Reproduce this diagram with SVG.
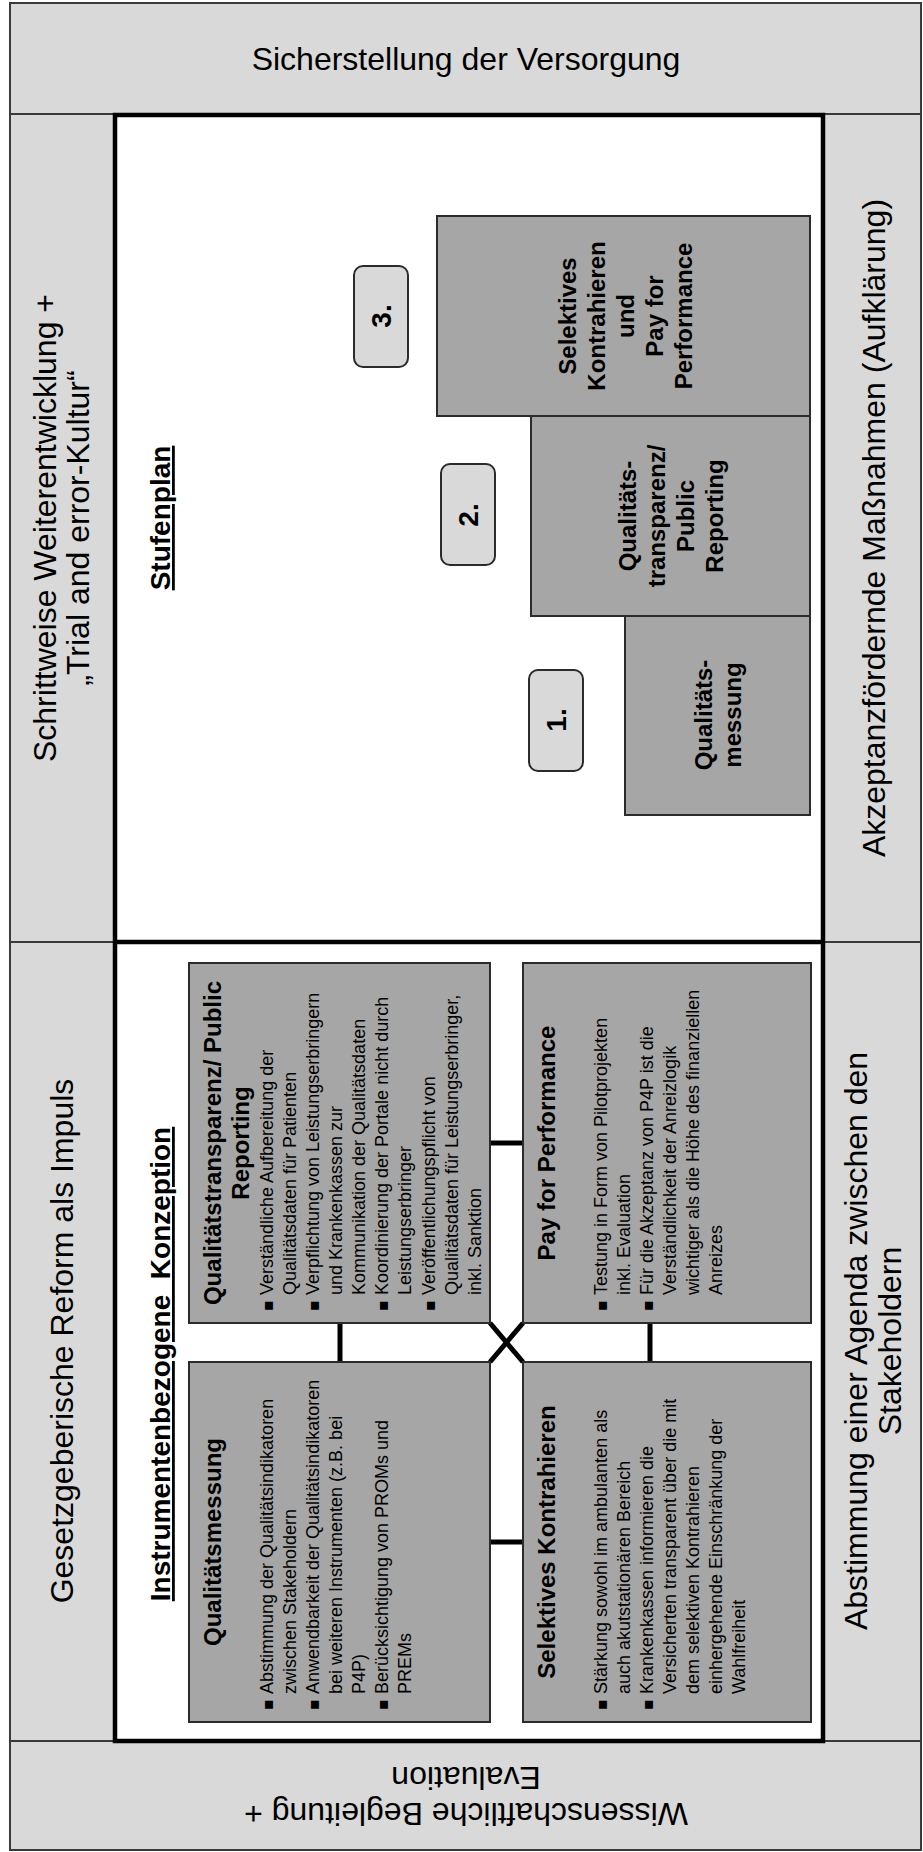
<svg xmlns="http://www.w3.org/2000/svg" width="923" height="1852" viewBox="0 0 923 1852">
  <style>
    text { font-family: 'Liberation Sans', Arial, sans-serif; fill: #000; }
    .big { font-size: 32px; text-anchor: middle; }
    .head { font-size: 28px; font-weight: bold; text-decoration: underline; text-anchor: middle; }
    .btitle { font-size: 24px; font-weight: bold; text-anchor: middle; }
    .bul { font-size: 18px; }
    .dot { font-family: 'DejaVu Sans', sans-serif; font-size: 16px; }
    .step { font-size: 24px; font-weight: bold; text-anchor: middle; }
    .num { font-size: 28px; font-weight: bold; text-anchor: middle; }
    .band { fill: #d9d9d9; stroke: #3a3a3a; stroke-width: 2; }
    .box { fill: #a6a6a6; stroke: #2b2b2b; stroke-width: 2; }
    .tag { fill: #d9d9d9; stroke: #2b2b2b; stroke-width: 2; }
    .thin { stroke: #3a3a3a; stroke-width: 2; fill: none; }
    .conn { stroke: #000; stroke-width: 5; fill: none; }
  </style>

  <!-- outer frame with the four surrounding bands -->
  <g id="frame">
    <rect class="band" x="10" y="3" width="911" height="1847"/>
    <line class="thin" x1="10" y1="114" x2="921" y2="114"/>
    <line class="thin" x1="10" y1="1741" x2="921" y2="1741"/>
    <line class="thin" x1="10" y1="942" x2="115" y2="942"/>
    <line class="thin" x1="823" y1="942" x2="921" y2="942"/>
  </g>

  <g id="band-top">
    <text class="big" x="466" y="70">Sicherstellung der Versorgung</text>
  </g>

  <g id="band-bottom">
    <g transform="rotate(180 466 1796)">
      <text class="big" x="466" y="1789">Wissenschaftliche Begleitung +</text>
      <text class="big" x="466" y="1825">Evaluation</text>
    </g>
  </g>

  <g id="side-left-top">
    <g transform="translate(0 528) rotate(-90)">
      <text class="big" x="0" y="56">Schrittweise Weiterentwicklung +</text>
      <text class="big" x="0" y="89">„Trial and error-Kultur“</text>
    </g>
  </g>

  <g id="side-left-bottom">
    <g transform="translate(0 1341) rotate(-90)">
      <text class="big" x="0" y="73">Gesetzgeberische Reform als Impuls</text>
    </g>
  </g>

  <g id="side-right-top">
    <g transform="translate(0 528) rotate(-90)">
      <text class="big" x="0" y="885">Akzeptanzfördernde Maßnahmen (Aufklärung)</text>
    </g>
  </g>

  <g id="side-right-bottom">
    <g transform="translate(0 1341) rotate(-90)">
      <text class="big" x="0" y="867">Abstimmung einer Agenda zwischen den</text>
      <text class="big" x="0" y="901">Stakeholdern</text>
    </g>
  </g>

  <!-- central white panel, split into the two halves -->
  <g id="panel">
    <rect x="115" y="115" width="708" height="1626" fill="#fff" stroke="#000" stroke-width="4.5"/>
    <line x1="115" y1="942" x2="823" y2="942" stroke="#000" stroke-width="4.5"/>
  </g>

  <!-- upper half: staircase plan -->
  <g id="stufenplan-title">
    <g transform="translate(0 518) rotate(-90)">
      <text class="head" x="0" y="170">Stufenplan</text>
    </g>
  </g>

  <g id="step-3">
    <rect class="box" x="437" y="216" width="373" height="200"/>
    <g transform="translate(0 316) rotate(-90)">
      <text class="step" x="0" y="576">Selektives</text>
      <text class="step" x="0" y="605">Kontrahieren</text>
      <text class="step" x="0" y="634">und</text>
      <text class="step" x="0" y="663">Pay for</text>
      <text class="step" x="0" y="692">Performance</text>
    </g>
  </g>

  <g id="step-2">
    <rect class="box" x="531" y="416" width="279" height="200"/>
    <g transform="translate(0 516) rotate(-90)">
      <text class="step" x="0" y="636">Qualitäts-</text>
      <text class="step" x="0" y="665">transparenz/</text>
      <text class="step" x="0" y="694">Public</text>
      <text class="step" x="0" y="723">Reporting</text>
    </g>
  </g>

  <g id="step-1">
    <rect class="box" x="625" y="616" width="185" height="199"/>
    <g transform="translate(0 715) rotate(-90)">
      <text class="step" x="0" y="712">Qualitäts-</text>
      <text class="step" x="0" y="741">messung</text>
    </g>
  </g>

  <g id="tag-3">
    <rect class="tag" x="354" y="266" width="54" height="101" rx="9"/>
    <g transform="translate(0 316) rotate(-90)">
      <text class="num" x="0" y="391">3.</text>
    </g>
  </g>

  <g id="tag-2">
    <rect class="tag" x="441" y="464" width="54" height="101" rx="9"/>
    <g transform="translate(0 515) rotate(-90)">
      <text class="num" x="0" y="478">2.</text>
    </g>
  </g>

  <g id="tag-1">
    <rect class="tag" x="529" y="670" width="54" height="101" rx="9"/>
    <g transform="translate(0 720) rotate(-90)">
      <text class="num" x="0" y="566">1.</text>
    </g>
  </g>

  <!-- lower half: instrument concept -->
  <g id="konzeption-title">
    <g transform="translate(0 1364) rotate(-90)">
      <text class="head" x="0" y="170" xml:space="preserve">Instrumentenbezogene  Konzeption</text>
    </g>
  </g>

  <g id="connectors">
    <line class="conn" x1="340" y1="1323" x2="340" y2="1362"/>
    <line class="conn" x1="650" y1="1323" x2="650" y2="1362"/>
    <line class="conn" x1="490" y1="1143" x2="523" y2="1143"/>
    <line class="conn" x1="490" y1="1542" x2="523" y2="1542"/>
    <line class="conn" x1="490" y1="1323" x2="523" y2="1362"/>
    <line class="conn" x1="523" y1="1323" x2="490" y2="1362"/>
  </g>

  <g id="node-transparenz">
    <rect class="box" x="189" y="963" width="301" height="360"/>
    <g transform="translate(189 1323) rotate(-90)">
      <text class="btitle" x="180" y="32">Qualitätstransparenz/ Public</text>
      <text class="btitle" x="180" y="60">Reporting</text>
      <text class="dot" x="12" y="84">▪</text>
      <text class="bul" x="28" y="84">Verständliche Aufbereitung der</text>
      <text class="bul" x="28" y="107">Qualitätsdaten für Patienten</text>
      <text class="dot" x="12" y="130">▪</text>
      <text class="bul" x="28" y="130">Verpflichtung von Leistungserbringern</text>
      <text class="bul" x="28" y="153">und Krankenkassen zur</text>
      <text class="bul" x="28" y="176">Kommunikation der Qualitätsdaten</text>
      <text class="dot" x="12" y="199">▪</text>
      <text class="bul" x="28" y="199">Koordinierung der Portale nicht durch</text>
      <text class="bul" x="28" y="222">Leistungserbringer</text>
      <text class="dot" x="12" y="246">▪</text>
      <text class="bul" x="28" y="246">Veröffentlichungspflicht von</text>
      <text class="bul" x="28" y="269">Qualitätsdaten für Leistungserbringer,</text>
      <text class="bul" x="28" y="292">inkl. Sanktion</text>
    </g>
  </g>

  <g id="node-messung">
    <rect class="box" x="189" y="1362" width="301" height="360"/>
    <g transform="translate(189 1722) rotate(-90)">
      <text class="btitle" x="180" y="32">Qualitätsmessung</text>
      <text class="dot" x="12" y="84">▪</text>
      <text class="bul" x="28" y="84">Abstimmung der Qualitätsindikatoren</text>
      <text class="bul" x="28" y="107">zwischen Stakeholdern</text>
      <text class="dot" x="12" y="130">▪</text>
      <text class="bul" x="28" y="130">Anwendbarkeit der Qualitätsindikatoren</text>
      <text class="bul" x="28" y="153">bei weiteren Instrumenten (z.B. bei</text>
      <text class="bul" x="28" y="176">P4P)</text>
      <text class="dot" x="12" y="199">▪</text>
      <text class="bul" x="28" y="199">Berücksichtigung von PROMs und</text>
      <text class="bul" x="28" y="222">PREMs</text>
    </g>
  </g>

  <g id="node-p4p">
    <rect class="box" x="523" y="963" width="288" height="360"/>
    <g transform="translate(523 1323) rotate(-90)">
      <text class="btitle" x="180" y="32">Pay for Performance</text>
      <text class="dot" x="12" y="84">▪</text>
      <text class="bul" x="28" y="84">Testung in Form von Pilotprojekten</text>
      <text class="bul" x="28" y="107">inkl. Evaluation</text>
      <text class="dot" x="12" y="130">▪</text>
      <text class="bul" x="28" y="130">Für die Akzeptanz von P4P ist die</text>
      <text class="bul" x="28" y="153">Verständlichkeit der Anreizlogik</text>
      <text class="bul" x="28" y="176">wichtiger als die Höhe des finanziellen</text>
      <text class="bul" x="28" y="199">Anreizes</text>
    </g>
  </g>

  <g id="node-kontrahieren">
    <rect class="box" x="523" y="1362" width="288" height="360"/>
    <g transform="translate(523 1722) rotate(-90)">
      <text class="btitle" x="180" y="32">Selektives Kontrahieren</text>
      <text class="dot" x="12" y="84">▪</text>
      <text class="bul" x="28" y="84">Stärkung sowohl im ambulanten als</text>
      <text class="bul" x="28" y="107">auch akutstationären Bereich</text>
      <text class="dot" x="12" y="130">▪</text>
      <text class="bul" x="28" y="130">Krankenkassen informieren die</text>
      <text class="bul" x="28" y="153">Versicherten transparent über die mit</text>
      <text class="bul" x="28" y="176">dem selektiven Kontrahieren</text>
      <text class="bul" x="28" y="199">einhergehende Einschränkung der</text>
      <text class="bul" x="28" y="222">Wahlfreiheit</text>
    </g>
  </g>
</svg>
